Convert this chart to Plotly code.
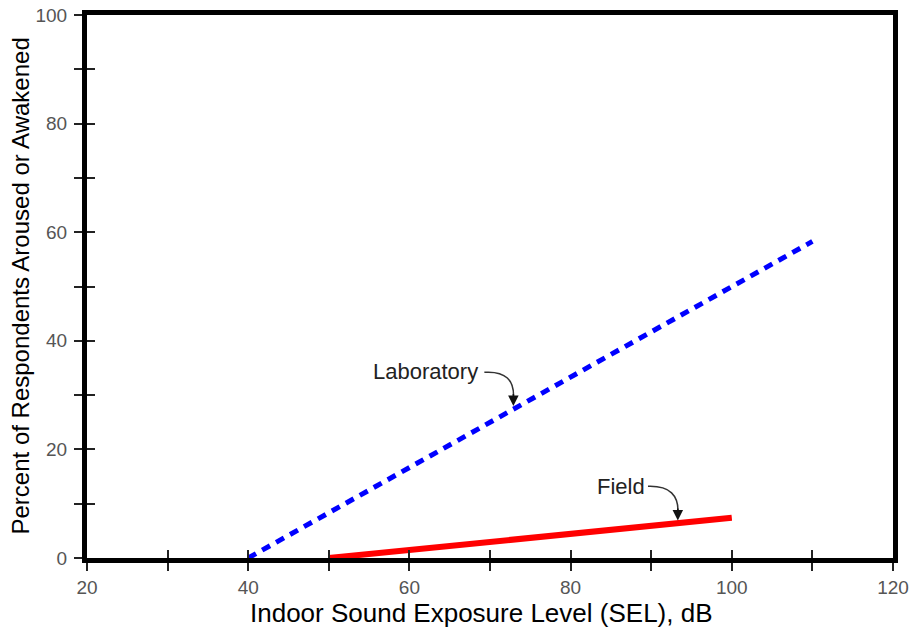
import plotly.graph_objects as go

# Data
lab_sel = [40, 110]
lab_pct = [0, 58.3]
field_sel = [50, 100]
field_pct = [0, 7.4]

x_ticks = [20, 30, 40, 50, 60, 70, 80, 90, 100, 110, 120]
x_labels = ["20", "", "40", "", "60", "", "80", "", "100", "", "120"]
y_ticks = [0, 10, 20, 30, 40, 50, 60, 70, 80, 90, 100]
y_labels = ["0", "", "20", "", "40", "", "60", "", "80", "", "100"]

fig = go.Figure()

fig.add_trace(go.Scatter(x=lab_sel, y=lab_pct, mode="lines",
                         line=dict(color="#0000ff", width=5, dash="9px,7px"),
                         showlegend=False))
fig.add_trace(go.Scatter(x=field_sel, y=field_pct, mode="lines",
                         line=dict(color="#ff0000", width=6),
                         showlegend=False))
# dummy trace so the overlay axes (inside tick marks) get drawn
fig.add_trace(go.Scatter(x=[20], y=[0], xaxis="x2", yaxis="y2", mode="markers",
                         marker=dict(opacity=0), showlegend=False, hoverinfo="skip"))

font_lbl = dict(family="Liberation Sans, Arial", size=22, color="#222222")

# curved leader lines
fig.add_shape(type="path", path="M 69.3,34.2 Q 73.2,34.6 72.9,29.2",
              line=dict(color="#333333", width=1.5))
fig.add_shape(type="path", path="M 89.6,13.2 Q 93.6,13.4 93.3,8.0",
              line=dict(color="#333333", width=1.5))

fig.add_annotation(x=62, y=34.3, text="Laboratory", showarrow=False, font=font_lbl)
fig.add_annotation(x=72.9, y=28.0, ax=72.9, ay=30.5, axref="x", ayref="y",
                   text="", showarrow=True, arrowhead=2, arrowsize=1.4,
                   arrowwidth=1.5, arrowcolor="#111111")
fig.add_annotation(x=86.2, y=13.2, text="Field", showarrow=False, font=font_lbl)
fig.add_annotation(x=93.3, y=6.9, ax=93.3, ay=9.4, axref="x", ayref="y",
                   text="", showarrow=True, arrowhead=2, arrowsize=1.4,
                   arrowwidth=1.5, arrowcolor="#111111")

# axis titles as annotations, placed in pixels from the plot frame
fig.add_annotation(text="Indoor Sound Exposure Level (SEL), dB", xref="paper", yref="paper",
                   x=0.49, y=0, yanchor="middle", yshift=-55, showarrow=False,
                   font=dict(family="Liberation Sans, Arial", size=26, color="black"))
fig.add_annotation(text="Percent of Respondents Aroused or Awakened", xref="paper", yref="paper",
                   x=0, y=0.5, xanchor="center", xshift=-67, textangle=-90,
                   showarrow=False,
                   font=dict(family="Liberation Sans, Arial", size=24, color="black"))

fig.update_layout(
    width=909, height=631,
    margin=dict(l=87, r=16, t=15, b=73),
    plot_bgcolor="white", paper_bgcolor="white",
    font=dict(family="Liberation Sans, Arial", size=19, color="#555555"),
    xaxis=dict(range=[20, 120], tickvals=x_ticks, ticktext=x_labels,
               ticks="outside", ticklen=8, tickwidth=1.5, tickcolor="#222222",
               showline=True, linewidth=5, linecolor="black", mirror=True,
               showgrid=False, zeroline=False, automargin=False,
               tickfont=dict(size=19, color="#555555")),
    yaxis=dict(range=[0, 100], tickvals=y_ticks, ticktext=y_labels,
               ticks="outside", ticklen=8, tickwidth=1.5, tickcolor="#222222",
               showline=True, linewidth=5, linecolor="black", mirror=True,
               showgrid=False, zeroline=False, automargin=False,
               ticklabelstandoff=3,
               tickfont=dict(size=19, color="#555555")),
    xaxis2=dict(range=[20, 120], overlaying="x", tickvals=x_ticks,
                ticks="inside", ticklen=8, tickwidth=1.5, tickcolor="#222222",
                showticklabels=False, showgrid=False, zeroline=False,
                showline=False, side="bottom", automargin=False),
    yaxis2=dict(range=[0, 100], overlaying="y", tickvals=y_ticks,
                ticks="inside", ticklen=8, tickwidth=1.5, tickcolor="#222222",
                showticklabels=False, showgrid=False, zeroline=False,
                showline=False, side="left", automargin=False),
)

# remove the page's default body margin so the figure fills the window
fig.write_html("out.html", config={"displayModeBar": False},
               post_script="document.body.style.margin='0px';")
